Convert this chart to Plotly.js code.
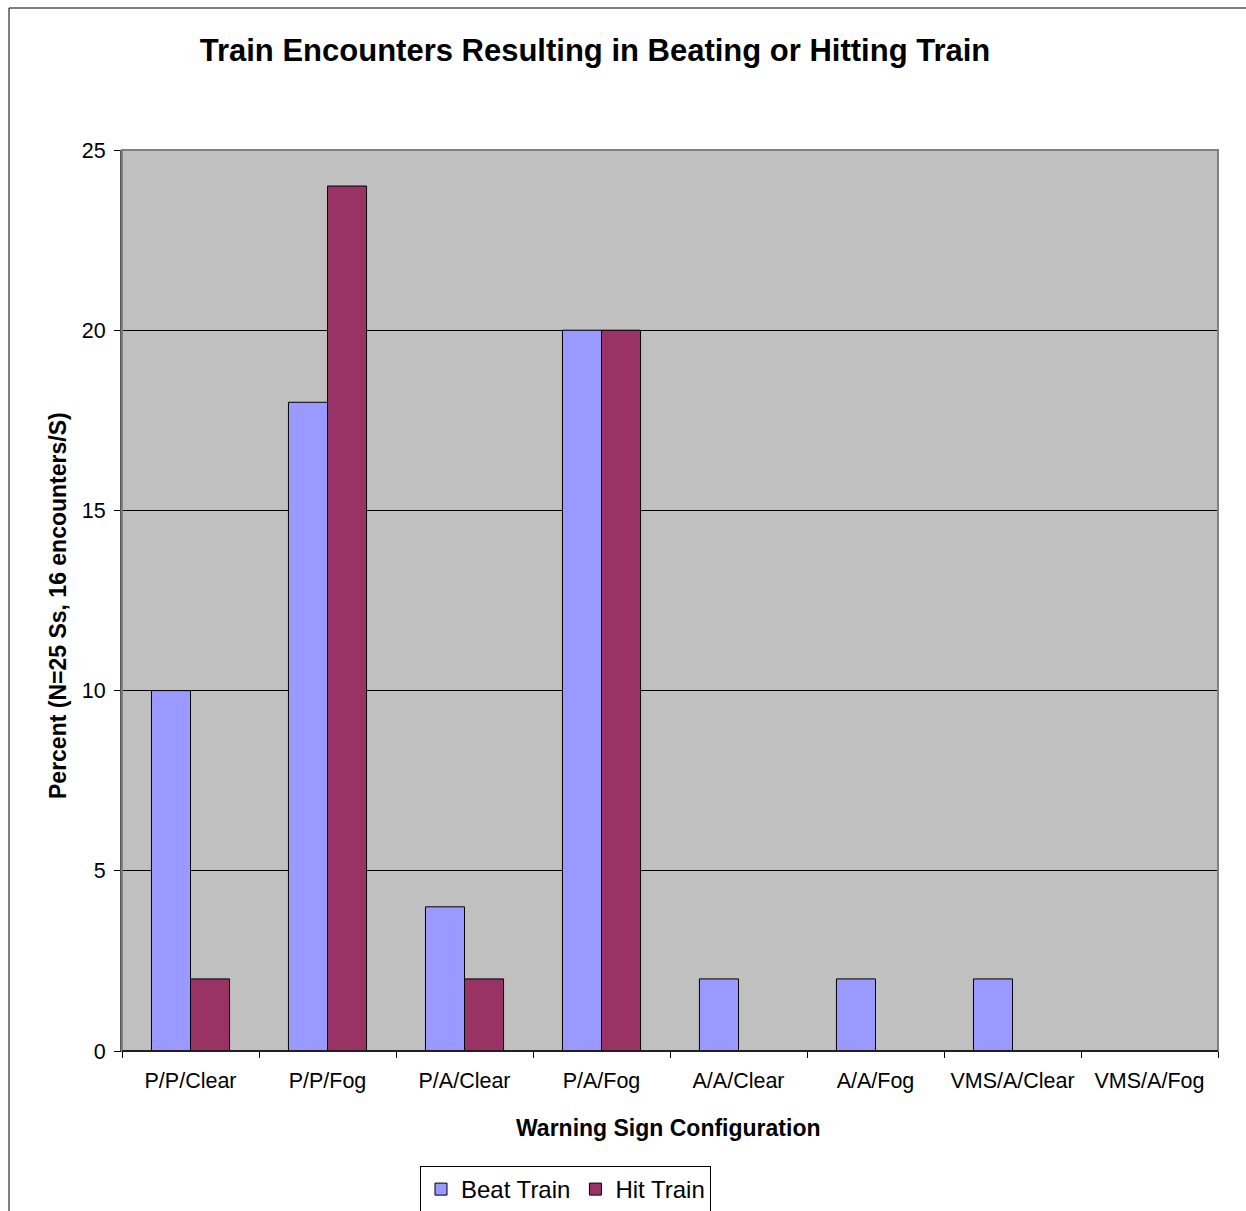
<!DOCTYPE html>
<html>
<head>
<meta charset="utf-8">
<script src="https://cdn.plot.ly/plotly-3.0.1.min.js"></script>
<style>html,body{margin:0;padding:0;background:#fff;overflow:hidden;}#chart{width:1246px;height:1211px;}</style>
</head>
<body>
<div id="chart"></div>
<script>
var categories = ["P/P/Clear","P/P/Fog","P/A/Clear","P/A/Fog","A/A/Clear","A/A/Fog","VMS/A/Clear","VMS/A/Fog"];
var beatTrain = [10,18,4,20,2,2,2,0];
var hitTrain = [2,24,2,20,0,0,0,0];
var yTicks = [0,5,10,15,20,25];

var W = 1246, H = 1211, L = 122, R = 28, T = 150, B = 160;
var pw = W - L - R, ph = H - T - B;
function px(x){ return (x - L) / pw; }
function py(y){ return (H - B - y) / ph; }

var font = "Liberation Sans, Arial, sans-serif";
var traces = [
  {type:"bar", name:"Beat Train", x:categories, y:beatTrain,
   marker:{color:"#9999FF", line:{color:"#000000", width:1}}},
  {type:"bar", name:"Hit Train", x:categories, y:hitTrain,
   marker:{color:"#993366", line:{color:"#000000", width:1}}}
];
var layout = {
  width:W, height:H,
  margin:{l:L, r:R, t:T, b:B, autoexpand:false},
  paper_bgcolor:"#FFFFFF", plot_bgcolor:"#C0C0C0",
  barmode:"group", bargap:0.43, bargroupgap:0,
  font:{family:font, color:"#000000"},
  title:{text:"<b>Train Encounters Resulting in Beating or Hitting Train</b>",
    font:{family:font, size:31, color:"#000"},
    x:595/W, xanchor:"center", xref:"container", y:1-50/H, yanchor:"middle", yref:"container"},
  xaxis:{type:"category", tickson:"boundaries", ticks:"outside", ticklen:6, tickcolor:"#000",
    showline:true, linecolor:"#000", linewidth:1, showgrid:false, zeroline:false,
    ticklabelstandoff:10,
    tickfont:{family:font, size:21.5}, automargin:false, fixedrange:true},
  yaxis:{range:[0,25], tickvals:yTicks, ticks:"outside", ticklen:6, tickcolor:"#000",
    showline:true, linecolor:"#555", linewidth:2, showgrid:true, gridcolor:"#000", gridwidth:1,
    ticklabelstandoff:4,
    zeroline:false, tickfont:{family:font, size:21.5}, automargin:false, fixedrange:true},
  showlegend:true,
  legend:{orientation:"h", x:px(420), xanchor:"left", y:py(1166), yanchor:"top",
    bgcolor:"#FFFFFF", bordercolor:"#000", borderwidth:1,
    font:{family:font, size:24}, itemwidth:30, traceorder:"normal"},
  annotations:[
    {text:"<b>Warning Sign Configuration</b>", xref:"paper", yref:"paper",
     x:px(668), y:py(1128), showarrow:false, xanchor:"center", yanchor:"middle",
     font:{family:font, size:23}},
    {text:"<b>Percent (N=25 Ss, 16 encounters/S)</b>", xref:"paper", yref:"paper",
     x:px(58), y:py(606), showarrow:false, textangle:-90, xanchor:"center", yanchor:"middle",
     font:{family:font, size:23}}
  ],
  shapes:[
    {type:"rect", xref:"paper", yref:"paper", x0:0, x1:1, y0:0, y1:1,
     line:{color:"#808080", width:2}, fillcolor:"rgba(0,0,0,0)", layer:"above"},
    {type:"line", xref:"paper", yref:"paper", x0:0, x1:1, y0:0, y1:0,
     line:{color:"#000", width:1.5}, layer:"above"},
    {type:"rect", xref:"paper", yref:"paper", x0:px(9), x1:px(1260), y0:py(1230), y1:py(8),
     line:{color:"#000", width:1}, fillcolor:"rgba(0,0,0,0)", layer:"below"}
  ]
};
Plotly.newPlot("chart", traces, layout, {staticPlot:true});
</script>
</body>
</html>
